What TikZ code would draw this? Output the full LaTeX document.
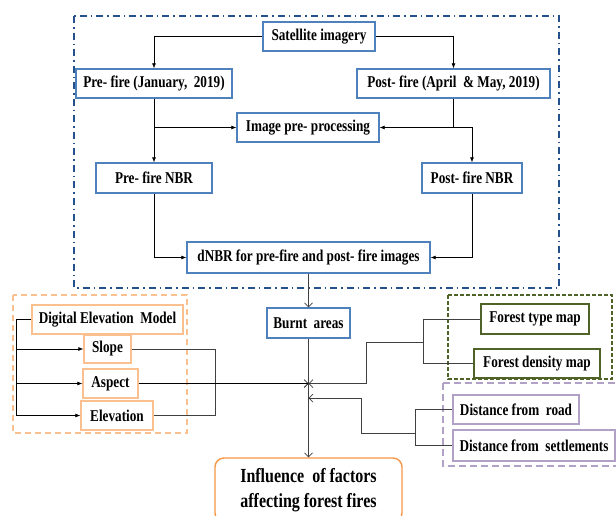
\documentclass[tikz,border=0pt]{standalone}
\usepackage{fontspec}
\setmainfont{Liberation Serif}[FakeStretch=0.8]
\usetikzlibrary{arrows.meta}
\definecolor{boxblue}{RGB}{79,129,189}
\definecolor{frameblue}{RGB}{36,80,140}
\definecolor{lightorange}{RGB}{250,192,144}
\definecolor{fireorange}{RGB}{247,150,70}
\definecolor{olivegreen}{RGB}{79,98,40}
\definecolor{lavender}{RGB}{178,161,199}
\tikzset{
  blk/.style={draw, line width=1.4pt, fill=white, inner sep=0pt,
    font=\bfseries\fontsize{16.5}{18}\selectfont},
  bluebox/.style={blk, draw=boxblue},
  orbox/.style={blk, draw=lightorange},
  grbox/.style={blk, draw=olivegreen},
  pubox/.style={blk, draw=lavender},
  la/.style={-{Latex[length=5pt,width=4pt]}, line width=0.6pt},
  oa/.style={-{Straight Barb[length=4pt,width=8pt]}, line width=0.7pt, draw=black!75},
  gl/.style={line width=0.7pt, draw=black!75},
}
\begin{document}
\begin{tikzpicture}[x=1pt,y=-1pt]
\useasboundingbox (0,0) rectangle (616,515);
\clip (0,0) rectangle (616,515);
% frames
\draw[frameblue, line width=1.3pt, dash pattern=on 7pt off 4pt on 1.5pt off 4pt]
	(74,16) rectangle (559,288);
\draw[lightorange, line width=1.3pt, dash pattern=on 6pt off 4pt] (13,295) rectangle (187,433);
\draw[olivegreen, line width=1.3pt, dash pattern=on 4pt off 2pt] (448,295) rectangle (612,379);
\draw[lavender, line width=1.3pt, dash pattern=on 7pt off 4pt] (443,383) rectangle (622,466);
% boxes
\node[bluebox, minimum width=112, minimum height=29] (sat) at (319,36.5) {Satellite imagery};
\node[bluebox, minimum width=156, minimum height=29] (pre) at (154,83.5) {Pre- fire (January,~ 2019)};
\node[bluebox, minimum width=193, minimum height=29] (post) at (453.5,83.5) {Post- fire (April~ \& May, 2019)};
\node[bluebox, minimum width=142, minimum height=29] (imgpp) at (308,127.5) {Image pre- processing};
\node[bluebox, minimum width=116, minimum height=30] (prenbr) at (154,178) {Pre- fire NBR};
\node[bluebox, minimum width=100, minimum height=30] (postnbr) at (472,178) {Post- fire NBR};
\node[bluebox, minimum width=243, minimum height=31] (dnbr) at (308.5,257.5) {dNBR for pre-fire and post- fire images};
\node[bluebox, minimum width=83, minimum height=30] (burnt) at (308.5,323) {Burnt~ areas};
\node[orbox, minimum width=151, minimum height=29] (dem) at (107.5,319.5) {Digital Elevation~ Model};
\node[orbox, minimum width=47, minimum height=28] (slope) at (107.5,349) {Slope};
\node[orbox, minimum width=55, minimum height=29] (aspect) at (110.5,383.5) {Aspect};
\node[orbox, minimum width=72, minimum height=29] (elev) at (117,415.5) {Elevation};
\node[grbox, minimum width=108, minimum height=30] (ftype) at (535,319) {Forest type map};
\node[grbox, minimum width=126, minimum height=29] (fdens) at (537,363.5) {Forest density map};
\node[pubox, minimum width=126, minimum height=29] (droad) at (516,409.5) {Distance from~ road};
\node[pubox, minimum width=162, minimum height=31] (dsett) at (534,445.5) {Distance from~ settlements};
\node[blk, draw=fireorange, rounded corners=9pt, minimum width=187, minimum height=64,
	align=center, font=\bfseries\fontsize{20}{25}\selectfont] (infl) at (308.5,490)
	{Influence~ of factors\\affecting forest fires};
% junctions
\coordinate (j1) at (burnt.south |- aspect.east);
\coordinate (j2) at (308.5,398);
\coordinate (dl) at (16,319.5);
\coordinate (dr) at (215,349);
\coordinate (fr) at (423,342);
\coordinate (fk) at (366,342);
\coordinate (dm) at (415,433);
\coordinate (dk) at (361,433);
% blue part
\draw[la] (sat.west) -| (pre.north);
\draw[la] (sat.east) -| (post.north);
\draw[la] (pre.south) |- (imgpp.west);
\draw[la] (pre.south) -- (prenbr.north);
\draw[la] (post.south) |- (imgpp.east);
\draw[la] (post.south |- imgpp.east) -| (postnbr.north);
\draw[la] (prenbr.south) |- (dnbr.west);
\draw[la] (postnbr.south) |- (dnbr.east);
\draw[oa] (dnbr.south) -- (burnt.north);
\draw[oa] (burnt.south) -- (infl.north);
% terrain
\draw[line width=0.7pt] (dem.west) -- (dl) -- (dl |- elev.west);
\foreach \t in {slope,aspect,elev}
	\draw[la] (dl |- \t.west) -- (\t.west);
\draw[gl] (slope.east) -- (dr |- slope.east) -- (dr |- elev.east) -- (elev.east);
\draw[oa, draw=black] (aspect.east) -- (j1);
% forest
\draw[gl] (ftype.west) -- (fr |- ftype.west) -- (fr |- fdens.west) -- (fdens.west);
\draw[oa] (fr) -- (fk) |- (j1);
% distance
\draw[gl] (droad.west) -- (dm |- droad.west) -- (dm |- dsett.west) -- (dsett.west);
\draw[oa] (dm) -- (dk) |- (j2);
\end{tikzpicture}
\end{document}
